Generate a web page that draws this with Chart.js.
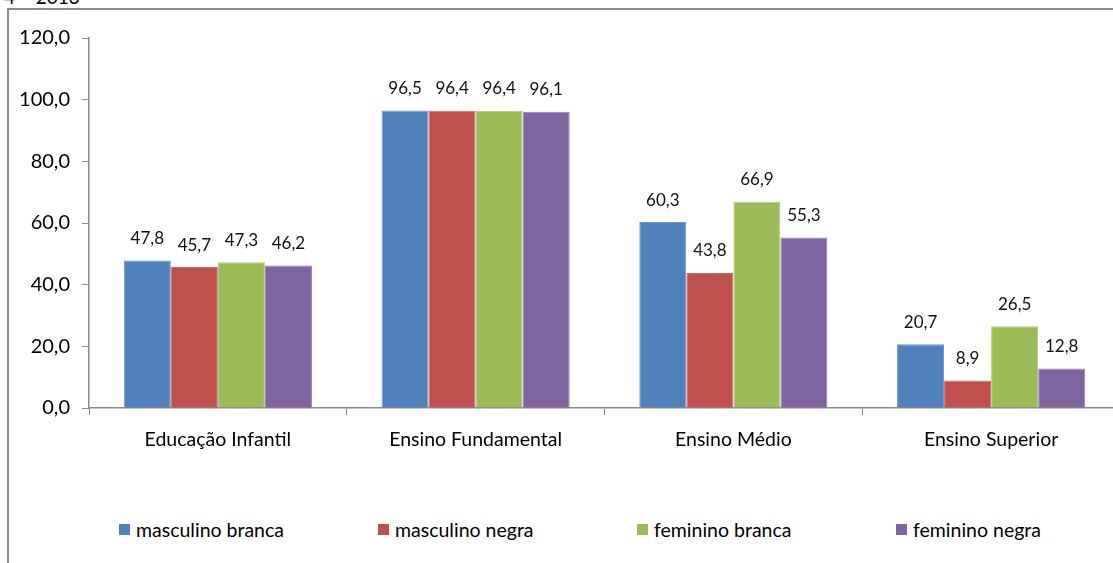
<!DOCTYPE html>
<html>
<head>
<meta charset="utf-8">
<script src="https://cdn.jsdelivr.net/npm/chart.js@4"></script>
<style>
  html, body { margin: 0; padding: 0; background: #fff; overflow: hidden; width: 1113px; height: 563px; }
  #titulo { position: absolute; left: 4px; top: -15px; font: 19px Lato, sans-serif; color: #000; white-space: nowrap; }
  #moldura { position: absolute; left: 7px; top: 8px; width: 1200px; height: 700px;
             border-left: 2px solid #8a8a8a; border-top: 2px solid #8a8a8a; }
  #box { position: absolute; left: 0; top: 0; width: 1140px; height: 470px; }
  #legenda { position: absolute; left: 119px; top: 518px; display: flex; font: 19.5px Lato, sans-serif; color: #000; }
  #legenda .item { width: 259px; display: flex; align-items: center; white-space: nowrap; }
  #legenda .cor { width: 11px; height: 11px; margin-right: 6px; }
</style>
</head>
<body>
<div id="titulo">4 – 2013</div>
<div id="moldura"></div>
<div id="box"><canvas id="myChart"></canvas></div>
<div id="legenda"></div>

<script>
// dados
var categorias = ["Educação Infantil", "Ensino Fundamental", "Ensino Médio", "Ensino Superior"];
var series = ["masculino branca", "masculino negra", "feminino branca", "feminino negra"];
var masculinoBranca = [47.8, 96.5, 60.3, 20.7];
var masculinoNegra = [45.7, 96.4, 43.8, 8.9];
var femininoBranca = [47.3, 96.4, 66.9, 26.5];
var femininoNegra = [46.2, 96.1, 55.3, 12.8];
var yTicks = [0, 20, 40, 60, 80, 100, 120];

var cores = ["#4F81BD", "#C0504D", "#9BBB59", "#8064A2"];
var bordas = ["#6b97cc", "#cf6a67", "#afcb74", "#9680b5"];

function virgula(v, casas) {
  return v.toFixed(casas).replace(".", ",");
}

// rotulos em cima das barras
var rotulos = {
  id: "rotulos",
  afterDatasetsDraw: function(chart) {
    var ctx = chart.ctx;
    ctx.save();
    ctx.font = "17px Lato, sans-serif";
    ctx.fillStyle = "#111";
    ctx.textAlign = "center";
    ctx.textBaseline = "middle";
    chart.data.datasets.forEach(function(ds, i) {
      var meta = chart.getDatasetMeta(i);
      meta.data.forEach(function(bar, j) {
        ctx.fillText(virgula(ds.data[j], 1), bar.x, bar.y - 22);
      });
    });
    ctx.restore();
  }
};

function getChart() {
  var ctx = document.getElementById("myChart").getContext("2d");
  var dados = [masculinoBranca, masculinoNegra, femininoBranca, femininoNegra];

  var chart = new Chart(ctx, {
    type: "bar",
    data: {
      labels: categorias,
      datasets: series.map(function(nome, i) {
        return {
          label: nome,
          data: dados[i],
          backgroundColor: cores[i],
          borderColor: bordas[i],
          borderWidth: 1,
          barPercentage: 1,
          categoryPercentage: 0.73
        };
      })
    },
    options: {
      responsive: true,
      maintainAspectRatio: false,
      animation: false,
      layout: { padding: { top: 38, right: 20, bottom: 0, left: 0 } },
      plugins: {
        legend: { display: false },
        tooltip: { enabled: false }
      },
      scales: {
        x: {
          grid: { display: true, drawOnChartArea: false, color: "#8a8a8a", tickLength: 7 },
          border: { color: "#8a8a8a", width: 1.5 },
          ticks: { color: "#000", font: { family: "Lato", size: 19.5 }, padding: 13 },
          afterFit: function(scale) { scale.height = 62; }
        },
        y: {
          min: 0,
          max: 120,
          afterBuildTicks: function(scale) {
            scale.ticks = yTicks.map(function(v) { return { value: v }; });
          },
          grid: { display: true, drawOnChartArea: false, color: "#8a8a8a", tickLength: 7 },
          border: { color: "#8a8a8a", width: 1.5 },
          ticks: {
            color: "#000",
            font: { family: "Lato", size: 20 },
            padding: 12,
            callback: function(v) { return virgula(v, 1); }
          },
          afterFit: function(scale) { scale.width = 89; }
        }
      }
    },
    plugins: [rotulos]
  });

  // legenda
  var leg = document.getElementById("legenda");
  series.forEach(function(nome, i) {
    var item = document.createElement("div");
    item.className = "item";
    var q = document.createElement("span");
    q.className = "cor";
    q.style.background = cores[i];
    item.appendChild(q);
    item.appendChild(document.createTextNode(nome));
    leg.appendChild(item);
  });
}

getChart();
</script>
</body>
</html>
